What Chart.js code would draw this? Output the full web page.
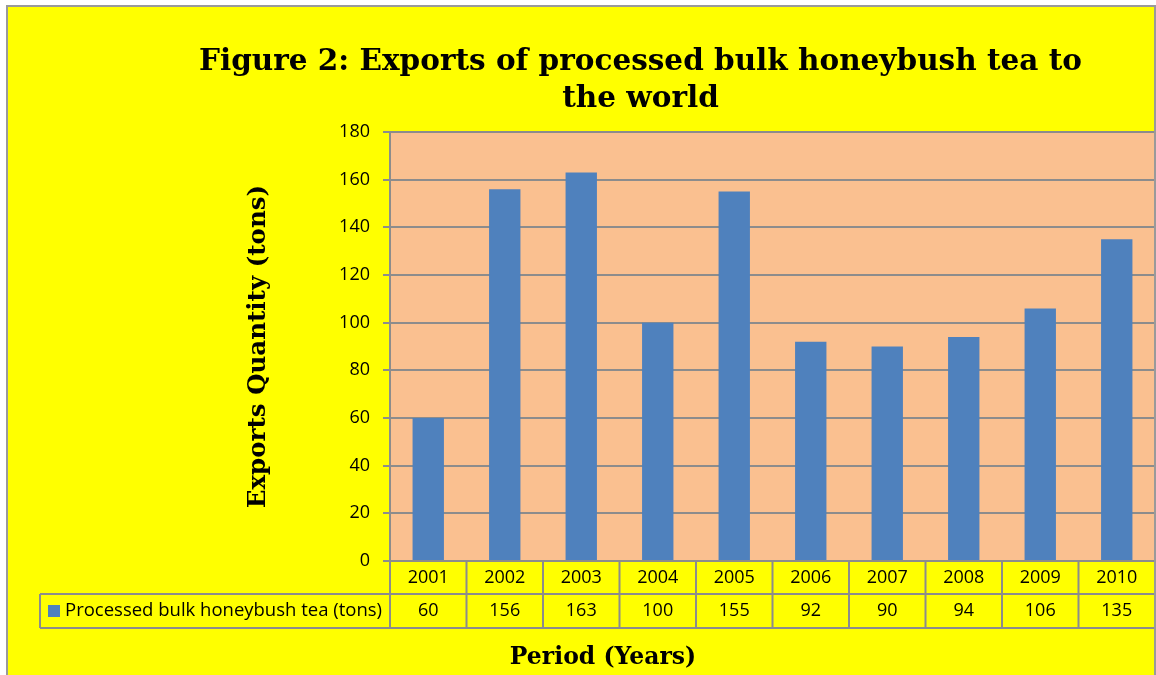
<!DOCTYPE html>
<html>
<head>
<meta charset="utf-8">
<script src="https://cdn.jsdelivr.net/npm/chart.js@4.4.1/dist/chart.umd.min.js"></script>
<style>
  html, body { margin: 0; padding: 0; background: #ffffff; }
  #wrap { width: 1156px; height: 675px; }
</style>
</head>
<body>
<div id="wrap"><canvas id="chart" width="1156" height="675"></canvas></div>
<script>
const years = ['2001', '2002', '2003', '2004', '2005', '2006', '2007', '2008', '2009', '2010'];
const exportTons = [60, 156, 163, 100, 155, 92, 90, 94, 106, 135];
const yTicks = [0, 20, 40, 60, 80, 100, 120, 140, 160, 180];
const seriesLabel = 'Processed bulk honeybush tea (tons)';
const titleLines = ['Figure 2: Exports of processed bulk honeybush tea to', 'the world'];
const yTitle = 'Exports Quantity (tons)';
const xTitle = 'Period (Years)';

const GRAY = '#8c8c8c';
const BAR = '#4f81bd';
const SANS = "'Open Sans', sans-serif";
const SERIF = "'DejaVu Serif', serif";

// background, frame and the data table under the plot
const dataTable = {
    id: 'dataTable',
    beforeDraw(chart) {
        const { ctx, width, height, chartArea: a } = chart;
        ctx.save();
        ctx.fillStyle = '#ffffff';
        ctx.fillRect(0, 0, width, height);
        ctx.fillStyle = '#ffff00';
        ctx.fillRect(7, 6, width - 7, height - 6);
        ctx.fillStyle = '#fac090';
        ctx.fillRect(a.left, a.top, a.right - a.left, a.bottom - a.top);
        ctx.restore();
    },
    afterDraw(chart) {
        const { ctx, chartArea: a } = chart;
        const x = chart.scales.x;
        const half = (x.getPixelForValue(1) - x.getPixelForValue(0)) / 2;
        const row1 = a.bottom, row2 = a.bottom + 33, row3 = a.bottom + 67;
        const legendLeft = 40;

        ctx.save();
        ctx.strokeStyle = GRAY;
        ctx.lineWidth = 2;
        ctx.beginPath();
        ctx.moveTo(legendLeft, row2); ctx.lineTo(a.right, row2);
        ctx.moveTo(legendLeft, row3); ctx.lineTo(a.right, row3);
        ctx.moveTo(legendLeft, row2); ctx.lineTo(legendLeft, row3);
        for (let i = 0; i <= years.length; i++) {
            const xb = i < years.length ? x.getPixelForValue(i) - half : x.getPixelForValue(i - 1) + half;
            ctx.moveTo(xb, row1); ctx.lineTo(xb, row3);
        }
        ctx.stroke();

        // value row
        ctx.fillStyle = '#000';
        ctx.font = `18px ${SANS}`;
        ctx.textAlign = 'center';
        ctx.textBaseline = 'middle';
        exportTons.forEach((v, i) => ctx.fillText(String(v), x.getPixelForValue(i), (row2 + row3) / 2));

        // legend key
        ctx.fillStyle = BAR;
        ctx.fillRect(48, 605, 12, 12);
        ctx.fillStyle = '#000';
        ctx.textAlign = 'left';
        ctx.font = `18.5px ${SANS}`;
        ctx.fillText(seriesLabel, 65, (row2 + row3) / 2);

        // x axis title, centred under table
        ctx.font = `bold 23.5px ${SERIF}`;
        ctx.textAlign = 'center';
        ctx.fillText(xTitle, 603, 658);

        // chart frame
        ctx.strokeStyle = '#9a9a9a';
        ctx.beginPath();
        ctx.moveTo(7, chart.height); ctx.lineTo(7, 6); ctx.lineTo(1155, 6); ctx.lineTo(1155, chart.height);
        ctx.stroke();
        ctx.restore();
    }
};

new Chart(document.getElementById('chart'), {
    type: 'bar',
    data: {
        labels: years,
        datasets: [{
            label: seriesLabel,
            data: exportTons,
            backgroundColor: BAR,
            borderWidth: 0,
            barPercentage: 0.41,
            categoryPercentage: 1
        }]
    },
    options: {
        responsive: false,
        animation: false,
        layout: { padding: { left: 126, right: 1, top: 0, bottom: 0 } },
        plugins: {
            legend: { display: false },
            tooltip: { enabled: false },
            title: {
                display: true,
                text: titleLines,
                color: '#000',
                font: { family: SERIF, size: 29.5, weight: 'bold', lineHeight: 1.26 },
                padding: { top: 44, bottom: 13.7 }
            }
        },
        scales: {
            x: {
                grid: { display: false, drawTicks: false },
                border: { display: false },
                ticks: { color: '#000', font: { family: SANS, size: 18 }, padding: 6 },
                afterFit: s => { s.height = 114; }
            },
            y: {
                min: 0,
                max: 180,
                afterBuildTicks: s => { s.ticks = yTicks.map(v => ({ value: v })); },
                grid: { color: GRAY, lineWidth: 2, tickLength: 7 },
                border: { display: true, color: GRAY, width: 2 },
                ticks: { color: '#000', font: { family: SANS, size: 18 }, padding: 13 },
                title: {
                    display: true,
                    text: yTitle,
                    color: '#000',
                    font: { family: SERIF, size: 24.5, weight: 'bold', lineHeight: 1.2 },
                    padding: { top: 118 }
                },
                afterFit: s => { s.width = 390 - 126; }
            }
        }
    },
    plugins: [dataTable]
});
</script>
</body>
</html>
